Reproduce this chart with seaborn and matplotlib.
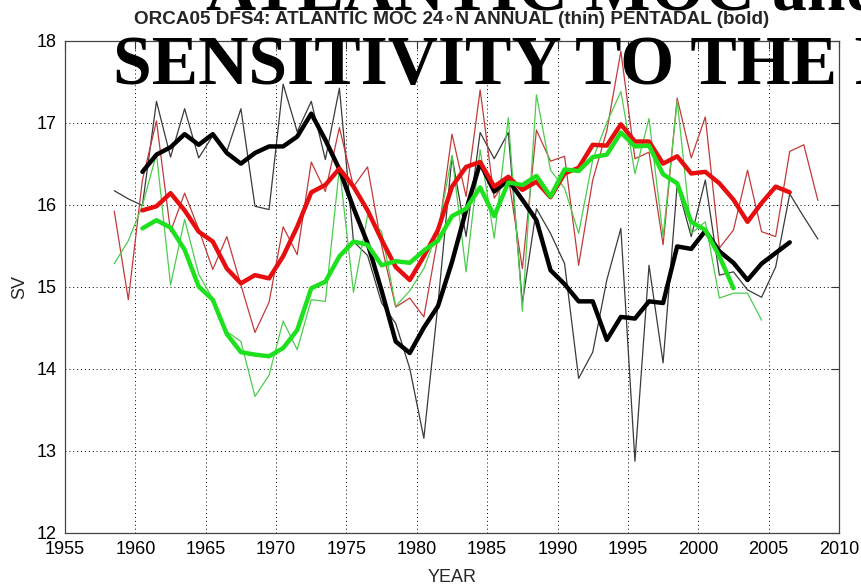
import numpy as np
import pandas as pd
import matplotlib
matplotlib.use("Agg")
import matplotlib.pyplot as plt
import seaborn as sns

# ---- data: Atlantic MOC at 24N (Sv), annual means and 5-year running means ----
annual_years = np.arange(1958, 2009)          # black / red annual
green_annual_years = np.arange(1958, 2005)    # green annual
pentadal_years = np.arange(1960, 2007)        # black / red pentadal
green_pentadal_years = np.arange(1960, 2003)  # green pentadal

black_annual = [16.17, 16.07, 15.99, 17.26, 16.58, 17.17, 16.57, 16.84, 16.65, 17.17,
                15.98, 15.94, 17.47, 16.89, 17.26, 16.55, 17.42, 15.55, 15.38, 14.80,
                14.55, 14.00, 13.15, 14.78, 16.59, 15.61, 16.88, 16.56, 16.88, 14.80,
                15.95, 15.65, 15.28, 13.88, 14.20, 15.08, 15.71, 12.87, 15.26, 14.07,
                16.24, 15.61, 16.30, 15.14, 15.18, 14.96, 14.87, 15.24, 16.13, 15.85,
                15.58]
red_annual = [15.92, 14.84, 16.30, 17.02, 15.67, 16.14, 15.70, 15.21, 15.61, 15.02,
              14.44, 14.81, 15.73, 15.39, 16.52, 16.16, 16.94, 16.22, 16.46, 15.50,
              14.75, 14.86, 14.63, 15.60, 16.86, 16.10, 17.40, 16.08, 16.34, 15.22,
              16.91, 16.53, 16.59, 15.26, 16.30, 16.90, 17.87, 16.56, 16.64, 15.51,
              17.30, 16.57, 17.07, 15.47, 15.69, 16.42, 15.67, 15.61, 16.65, 16.73,
              16.05]
green_annual = [15.28, 15.56, 15.99, 16.62, 15.02, 15.82, 15.15, 14.85, 14.45, 14.33,
                13.66, 13.92, 14.58, 14.23, 14.84, 14.82, 16.45, 14.93, 15.87, 15.67,
                14.76, 14.95, 15.22, 15.68, 16.60, 15.18, 16.67, 15.59, 17.06, 14.70,
                17.34, 16.42, 16.20, 15.65, 16.55, 17.00, 17.38, 16.38, 17.05, 15.61,
                17.27, 15.65, 15.79, 14.86, 14.92, 14.92, 14.59]

black_pentadal = [16.40, 16.61, 16.70, 16.86, 16.73, 16.86, 16.63, 16.50, 16.63, 16.71,
                  16.71, 16.83, 17.11, 16.79, 16.43, 15.96, 15.53, 14.95, 14.33, 14.19,
                  14.50, 14.76, 15.30, 15.93, 16.51, 16.16, 16.30, 16.06, 15.81, 15.20,
                  15.03, 14.82, 14.82, 14.35, 14.63, 14.61, 14.82, 14.80, 15.49, 15.46,
                  15.68, 15.43, 15.29, 15.08, 15.28, 15.41, 15.54]
red_pentadal = [15.93, 15.98, 16.14, 15.93, 15.67, 15.55, 15.22, 15.04, 15.14, 15.10,
                15.37, 15.73, 16.15, 16.24, 16.44, 16.22, 15.93, 15.57, 15.24, 15.08,
                15.37, 15.69, 16.22, 16.46, 16.52, 16.22, 16.34, 16.18, 16.28, 16.09,
                16.38, 16.45, 16.73, 16.72, 16.98, 16.77, 16.77, 16.50, 16.59, 16.38,
                16.40, 16.26, 16.06, 15.79, 16.02, 16.22, 16.15]
green_pentadal = [15.71, 15.81, 15.72, 15.45, 15.00, 14.84, 14.42, 14.20, 14.17, 14.15,
                  14.25, 14.47, 14.98, 15.06, 15.37, 15.55, 15.51, 15.26, 15.31, 15.29,
                  15.44, 15.56, 15.86, 15.95, 16.21, 15.86, 16.27, 16.24, 16.35, 16.10,
                  16.43, 16.41, 16.58, 16.61, 16.88, 16.71, 16.72, 16.37, 16.26, 15.79,
                  15.69, 15.37, 14.98]

x_ticks = list(range(1955, 2011, 5))
y_ticks = list(range(12, 19))

# ---- style ----
sns.set_theme(style="white")
plt.rcParams["font.family"] = ["Liberation Sans", "DejaVu Sans"]

fig = plt.figure(figsize=(8.62, 5.88), dpi=100)
ax = fig.add_axes([65 / 862, 1 - 532.5 / 588, 774 / 862, 491.8 / 588])

# annual values are plotted at mid-year
series = [
    (annual_years, black_annual, "#3a3a3a", 0.9, 2),
    (annual_years, red_annual, "#c23a3a", 0.9, 2),
    (green_annual_years, green_annual, "#4ccc4c", 0.9, 2),
    (pentadal_years, black_pentadal, "#000000", 3.2, 3),
    (pentadal_years, red_pentadal, "#e60e0e", 3.2, 3),
    (green_pentadal_years, green_pentadal, "#1ee11e", 3.2, 3),
]
for yrs, vals, col, lw, z in series:
    df = pd.DataFrame({"year": np.asarray(yrs) + 0.5, "sv": vals})
    sns.lineplot(data=df, x="year", y="sv", ax=ax, color=col, linewidth=lw,
                 estimator=None, sort=False, zorder=z)

ax.set_xlim(1955, 2010)
ax.set_ylim(12, 18)
ax.set_xticks(x_ticks)
ax.set_yticks(y_ticks)
ax.grid(True, color="black", linestyle=(0, (1, 3)), linewidth=0.7)
ax.tick_params(direction="in", length=6, width=0.8, top=True, right=True,
               labelsize=13, colors="#333333", labelcolor="black", pad=6)
for sp in ax.spines.values():
    sp.set_color("#444444")
    sp.set_linewidth(0.9)

ax.set_xlabel("YEAR", fontsize=13, labelpad=8)
ax.set_ylabel("SV", fontsize=13, labelpad=6)

fig.text((65 + 839) / 2 / 862, 1 - 19 / 588,
         "ORCA05 DFS4: ATLANTIC MOC 24\u2218N ANNUAL (thin) PENTADAL (bold)",
         ha="center", va="center", fontsize=13.6, fontweight="bold",
         family=["Liberation Sans", "DejaVu Sans"])

# slide heading laid over the figure
heading_font = dict(fontsize=50, fontweight="bold", family="Liberation Serif",
                    color="black", ha="left", va="baseline", zorder=10)
fig.text(206 / 862, 1 - 9 / 588, "ATLANTIC MOC and", **heading_font)
fig.text(113 / 862, 1 - 84 / 588, "SENSITIVITY TO THE FORCING", **heading_font)

fig.savefig("out.png", dpi=100)
